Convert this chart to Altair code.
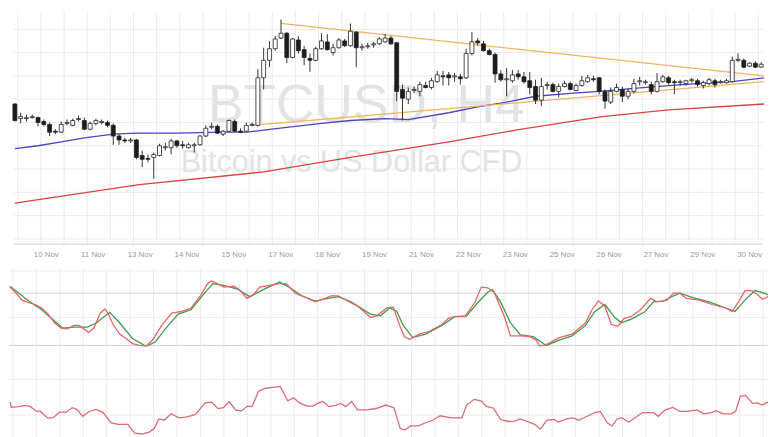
import altair as alt
import pandas as pd

# ---------------- data ----------------
# H4 candles, bar index 0..129, prices in USD
open_ = [705,690,690,691,691,687,684,677,676,685,
         683,689,688,679,685,686,686,683,672,668,
         667,668,652,649,650,652,660,660,667,663,
         660,662,663,672,681,682,674,677,687,677,
         677,683,683,732,750,762,773,778,753,771,
         761,752,750,762,769,758,763,770,765,779,
         763,764,766,767,769,773,768,720,710,719,
         718,724,722,728,734,735,733,733,732,757,
         770,767,760,756,736,730,729,736,733,729,
         723,709,724,725,718,723,726,719,724,728,
         731,732,718,707,718,720,713,718,728,727,
         725,718,728,732,728,727,726,729,729,724,
         726,729,727,727,728,750,750,744,747,743]
high = [706,696,694,694,692,689,686,679,687,689,
        690,693,691,687,690,689,688,685,674,670,
        670,669,657,653,655,664,665,669,668,667,
        665,665,673,683,686,684,678,689,689,680,
        686,686,741,763,770,775,792,779,773,775,
        765,757,764,778,777,767,773,772,788,780,
        767,768,769,774,777,775,769,725,722,723,
        728,728,732,739,739,738,737,736,762,779,
        773,770,762,758,740,742,740,740,738,738,
        730,732,728,727,726,729,728,726,734,735,
        734,733,720,722,726,723,721,731,733,730,
        728,737,735,734,730,730,730,732,731,729,
        732,731,730,731,754,757,752,748,749,748]
low = [687,685,687,690,682,682,672,674,675,683,
       682,687,678,678,683,684,681,663,663,665,
       665,648,640,645,628,651,657,653,660,659,
       659,655,662,671,679,674,672,676,676,675,
       676,682,682,720,743,760,772,747,752,757,
       745,738,749,761,760,755,762,764,764,743,
       760,762,763,766,768,766,708,688,705,716,
       713,721,720,727,724,724,728,725,731,755,
       765,759,755,727,728,713,727,730,726,715,
       705,703,720,717,712,722,719,718,723,727,
       728,715,700,705,717,707,710,716,724,725,
       715,717,727,725,715,724,724,727,723,721,
       724,722,726,726,727,748,742,743,742,742]
close = [688,692,691,692,686,684,676,676,684,686,
         688,690,679,685,688,687,683,672,668,667,
         668,650,648,648,653,662,661,667,662,662,
         663,663,672,680,682,675,677,688,677,676,
         683,684,732,750,762,772,778,753,772,760,
         753,750,762,770,761,763,771,765,780,763,
         764,765,767,772,773,767,718,711,718,720,
         725,722,729,735,733,732,734,731,757,769,
         768,760,756,736,730,731,735,733,728,722,
         709,723,725,718,723,726,720,724,729,732,
         730,718,708,718,722,713,718,726,729,728,
         718,728,733,727,727,728,729,730,725,727,
         730,725,728,729,750,751,743,747,743,746]

# moving averages (bar index, price)
ma_blue_idx = [0,4,8,12,17,21,28,36,40,43,47,53,58,64,68,75,80,85,90,96,101,107,113,118,124,129.5]
ma_blue = [659,662,666,670,674,675,675,676,676,678,681,685,688,690,689,696,702,707,713,716,718,721,724,726,728,732]
ma_red_idx = [0,21.5,43,58,75,86.5,101.5,113,129.5]
ma_red = [603,622,635,650,666,678,692,699,705]

# triangle trend lines
trend_upper_idx = [46,129.5]
trend_upper = [788,734]
trend_lower_idx = [41,129.5]
trend_lower = [683,728]

# stochastic %K (red) and %D (green)
stoch_k_idx = [0,0.9,2.05,3.2,4.3,5.4,6.5,7.6,8.7,9.8,
               10.9,11.8,13.4,14.3,15.4,16.2,16.8,17.6,18.7,19.8,
               20.9,22.1,23.2,24.3,25.9,27.6,29.3,30.9,32.6,33.7,
               34.4,35.4,36.5,38.2,39.3,40.4,41.5,42.6,44.3,46,
               47.1,48.7,50.4,52.1,53.7,54.8,56,57.6,59.3,60.4,
               61.5,62.6,64.3,65.4,66.5,
               67.3,68.2,69.8,71.5,73.7,74.8,75.9,77.6,79.3,80.4,
               81.5,82.6,84.3,85.4,87.1,88.7,89.8,90.4,91.5,93.7,
               95.9,98.2,99.3,100.4,101.5,102.6,103.7,104.8,105.9,107.6,
               109.3,110.4,112.1,113.2,114.3,115.4,117.6,119.8,122.1,123.2,
               124.3,125.4,126.5,127.6,128.4,129.3]
stoch_k = [87,81,72,69,67,63,56,46,40,39,
           43,43,35,40,57,62,56,44,33,28,
           22,20,19,26,43,57,59,63,78,91,
           94,91,87,88,83,74,78,87,89,91,
           91,80,75,70,74,77,77,71,65,59,
           52,54,63,64,43,
           30,27,33,36,44,51,53,53,69,87,
           86,81,54,31,31,30,26,19,21,29,
           33,46,61,71,65,44,42,51,53,61,
           74,70,72,80,80,74,72,67,63,59,
           70,83,83,78,73,76]
stoch_d_idx = [0,1.5,3.2,5.4,7.6,9,10.9,13.2,14.8,17,
               18.7,20.9,23.2,24.8,26.5,28.7,30.9,33.2,34.6,36.5,
               38.7,40.9,43.2,46,47.6,49.8,52.1,54.3,56,58.2,
               61.5,63.2,64.8,66,67.1,68.7,70.9,73.7,75.9,77.9,
               79.8,81.5,82.3,83.7,85.4,87.1,89.3,91.5,93.7,95.9,
               98.2,99.8,101.5,103.2,104.3,105.9,108.2,109.8,111.5,113.2,
               114.3,116.5,119.3,122.1,123.7,125.4,127.1,128.7,129.3]
stoch_d = [88,80,71,61,48,40,41,41,46,58,
           46,28,19,24,39,56,61,80,91,89,
           85,76,84,93,87,77,71,74,76,70,
           56,54,63,59,43,29,33,43,53,54,
           69,81,84,70,46,32,30,20,26,31,
           43,59,67,52,46,50,58,70,71,77,
           80,75,70,63,59,72,83,80,78]

# RSI
rsi_idx = [0,0.24,1.5,2.7,3.5,4.4,5.2,6.4,7.3,8.5,
           9.6,10.6,11.4,12.4,13.5,14.7,15.9,17.2,18.4,20.1,
           21.3,22.6,23.8,24.6,25.4,26.3,27.5,28.8,30,31.6,
           33.3,34.4,35.5,36.4,37.4,38.5,39.5,40.5,41.3,42.4,
           43.6,44.9,46.1,47.4,48.4,49.4,50.7,51.7,52.7,53.4,
           54.4,55.6,56.4,57.3,58.3,59.3,61,62.6,64.1,65.5,
           66.6,67.4,68.4,69.7,70.9,72.1,73.4,74.6,75.5,77.1,
           77.9,79.2,80.4,81.2,82.5,83.7,85,86.2,87,88.3,
           89.5,90.5,91.6,92.8,93.6,94.9,96.1,97,98.2,99.8,
           100.7,101.9,102.7,103.6,104.4,105.6,106.9,107.9,109.8,110.6,
           111.8,113.1,114.3,115.5,117.2,118.4,119.7,120.5,121.7,123,
           123.8,124.6,125.5,126.7,127.5,128.3,129.4]
rsi = [47.4,44.3,44.7,45.4,44.7,42.3,42,38.4,38.4,41.6,
       41.6,44.1,43.2,39.3,42,43.2,41.4,35.7,34.8,34.8,
       29.9,29.4,30.6,32.4,37.8,37.1,40.7,38.4,38.9,40.2,
       46.8,47.2,43.6,44.1,47.4,42.9,42.3,45,44.7,53.3,
       55,55.5,56,47.9,49.7,46.8,45,45,46.8,47.6,
       44.7,45.4,46.5,44.7,47.6,42.9,42.9,43.8,45.6,44.1,
       32.4,31.7,33.9,33.9,35.7,37.1,39.6,38.9,38.4,38.4,
       45.6,48.8,47.9,45,43.8,37.5,36.4,36.6,37.8,36.4,
       34.8,32.1,37.1,37.5,36.1,37.8,38.4,37.1,38.9,41.4,
       42,35.7,33.9,37.8,38.4,36.1,39,41.4,41.4,39.3,
       42.9,44.3,42,42,42.9,40.7,41.4,42.5,40.7,40.7,
       42,50.5,51,46.5,46.8,45.6,47.4]

date_labels = ["10 Nov","11 Nov","13 Nov","14 Nov","15 Nov","17 Nov","18 Nov","19 Nov",
               "21 Nov","22 Nov","23 Nov","25 Nov","26 Nov","27 Nov","29 Nov","30 Nov"]
date_label_idx = [6.2,14.2,22.2,30.2,38.2,46.2,54.2,62.2,70.2,78.2,86.2,94.2,102.2,110.2,118.2,126.2]

title_text = "BTCUSD, H4"
subtitle_text = "Bitcoin vs US Dollar CFD"

# grid levels
grid_idx = [0.5 + 4 * k for k in range(33)]
price_grid = [782,758,734,710,686,662,638,614,590,566]
stoch_grid_light = [105.6,52.2]
stoch_grid_dark = [80,20]
rsi_grid = [60,40]

assert len(open_) == len(high) == len(low) == len(close) == 130
assert len(stoch_k_idx) == len(stoch_k)
assert len(stoch_d_idx) == len(stoch_d)
assert len(rsi_idx) == len(rsi)

# ---------------- chart ----------------
W = 769
H1, H2, H3 = 236, 101, 92
FONT = "Liberation Sans"
GRID = "#ebebeb"

xs = alt.Scale(domain=[-0.17, 129.33], nice=False, zero=False)


def X(f):
    return alt.X(f, type="quantitative", scale=xs, axis=None)


candles = pd.DataFrame({"i": list(range(130)), "open": open_, "high": high,
                        "low": low, "close": close})


def line_df(ix, v):
    return pd.DataFrame({"i": ix, "v": v})


# ---- price panel ----
ps = alt.Scale(domain=[560, 800], nice=False, zero=False)


def PY(f):
    return alt.Y(f, type="quantitative", scale=ps, axis=None)


vgrid = alt.Chart(pd.DataFrame({"i": grid_idx, "a": 800, "b": 560})).mark_rule(
    color=GRID, strokeWidth=1).encode(x=X("i"), y=PY("a"), y2="b")
hgrid = alt.Chart(pd.DataFrame({"p": price_grid, "a": -0.17, "b": 129.33})).mark_rule(
    color=GRID, strokeWidth=1).encode(y=PY("p"), x=X("a"), x2="b")
bottom = alt.Chart(pd.DataFrame({"p": [560.6], "a": -0.17, "b": 129.33})).mark_rule(
    color="#cfcfcf", strokeWidth=1).encode(y=PY("p"), x=X("a"), x2="b")
wm1 = alt.Chart(pd.DataFrame({"t": [title_text]})).mark_text(
    font=FONT, fontSize=54, color="#e3e3e3", align="center", baseline="alphabetic",
    x=362, y=112).encode(text="t:N")
wm2 = alt.Chart(pd.DataFrame({"t": [subtitle_text]})).mark_text(
    font=FONT, fontSize=31, color="#e3e3e3", align="center", baseline="alphabetic",
    x=347, y=162).encode(text="t:N")

red_ma = alt.Chart(line_df(ma_red_idx, ma_red)).mark_line(
    color="#d9423f", strokeWidth=1.3, clip=True).encode(x=X("i"), y=PY("v"))
blue_ma = alt.Chart(line_df(ma_blue_idx, ma_blue)).mark_line(
    color="#4a44c4", strokeWidth=1.3, clip=True).encode(x=X("i"), y=PY("v"))
tu = alt.Chart(line_df(trend_upper_idx, trend_upper)).mark_line(
    color="#f3b35c", strokeWidth=1.2, clip=True).encode(x=X("i"), y=PY("v"))
tl = alt.Chart(line_df(trend_lower_idx, trend_lower)).mark_line(
    color="#f3b35c", strokeWidth=1.2, clip=True).encode(x=X("i"), y=PY("v"))

wick = alt.Chart(candles).mark_rule(color="#333333", strokeWidth=1, clip=True).encode(
    x=X("i"), y=PY("low"), y2="high")
body = alt.Chart(candles).mark_bar(size=4, stroke="#222222", strokeWidth=0.8, clip=True).encode(
    x=X("i"), y=PY("open"), y2="close",
    fill=alt.condition("datum.close >= datum.open", alt.value("#ffffff"), alt.value("#1c1c1c")))

price = alt.layer(vgrid, hgrid, bottom, wm1, wm2, red_ma, blue_ma, tu, tl, wick, body).properties(
    width=W, height=H1)

# ---- stochastic panel (with date strip on top) ----
ss = alt.Scale(domain=[18.89, 133.33], nice=False, zero=False)


def SY(f):
    return alt.Y(f, type="quantitative", scale=ss, axis=None)


svgrid = alt.Chart(pd.DataFrame({"i": grid_idx, "a": 107.8, "b": 18.89})).mark_rule(
    color=GRID, strokeWidth=1).encode(x=X("i"), y=SY("a"), y2="b")
slight = alt.Chart(pd.DataFrame({"v": stoch_grid_light, "a": -0.17, "b": 129.33})).mark_rule(
    color=GRID, strokeWidth=1).encode(y=SY("v"), x=X("a"), x2="b")
sdark = alt.Chart(pd.DataFrame({"v": stoch_grid_dark, "a": -0.17, "b": 129.33})).mark_rule(
    color="#d2d2d2", strokeWidth=1).encode(y=SY("v"), x=X("a"), x2="b")
labels = alt.Chart(pd.DataFrame({"i": date_label_idx, "t": date_labels, "y": 123.3})).mark_text(
    font=FONT, fontSize=8, color="#9a9a9a", align="center", baseline="middle").encode(
    x=X("i"), y=SY("y"), text="t:N")
k_line = alt.Chart(line_df(stoch_k_idx, stoch_k)).mark_line(
    color="#e8636b", strokeWidth=1.3, clip=True).encode(x=X("i"), y=SY("v"))
d_line = alt.Chart(line_df(stoch_d_idx, stoch_d)).mark_line(
    color="#3f9a4a", strokeWidth=1.3, clip=True).encode(x=X("i"), y=SY("v"))
stoch = alt.layer(svgrid, slight, sdark, labels, d_line, k_line).properties(width=W, height=H2)

# ---- RSI panel ----
rs = alt.Scale(domain=[26.49, 77.3], nice=False, zero=False)


def RY(f):
    return alt.Y(f, type="quantitative", scale=rs, axis=None)


rvgrid = alt.Chart(pd.DataFrame({"i": grid_idx, "a": 77.3, "b": 26.49})).mark_rule(
    color=GRID, strokeWidth=1).encode(x=X("i"), y=RY("a"), y2="b")
rhgrid = alt.Chart(pd.DataFrame({"v": rsi_grid, "a": -0.17, "b": 129.33})).mark_rule(
    color=GRID, strokeWidth=1).encode(y=RY("v"), x=X("a"), x2="b")
rsi_line = alt.Chart(line_df(rsi_idx, rsi)).mark_line(
    color="#dd6a72", strokeWidth=1.3, clip=True).encode(x=X("i"), y=RY("v"))
rsi_panel = alt.layer(rvgrid, rhgrid, rsi_line).properties(width=W, height=H3)

chart = alt.vconcat(price, stoch, rsi_panel, spacing=0).properties(
    padding=0, background="white").configure_view(stroke="transparent").configure_concat(spacing=0)

chart.save("out.html", embed_options={"renderer": "svg", "actions": False})
